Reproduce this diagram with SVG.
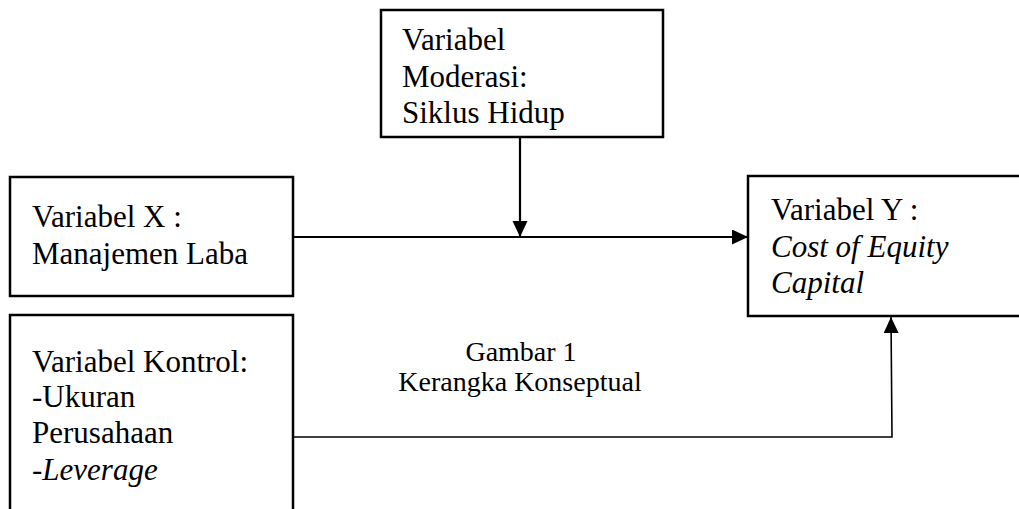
<svg xmlns="http://www.w3.org/2000/svg" width="1019" height="509" viewBox="0 0 1019 509">
  <defs>
    <marker id="arrow" markerUnits="userSpaceOnUse" markerWidth="17" markerHeight="16" refX="16" refY="7.5" orient="auto">
      <path d="M0,0 L16,7.5 L0,15 Z" fill="#000"/>
    </marker>
  </defs>
  <style>
    .box { fill: #fff; stroke: #000; stroke-width: 2.5; }
    .t { font-family: "Liberation Serif", "Times New Roman", serif; font-size: 31px; fill: #000; }
    .i { font-style: italic; }
    .cap { font-family: "Liberation Serif", "Times New Roman", serif; font-size: 28px; fill: #000; text-anchor: middle; }
    .conn { fill: none; stroke: #000; stroke-width: 2.2; }
    .conn2 { fill: none; stroke: #000; stroke-width: 1.6; }
  </style>
  <rect width="1019" height="509" fill="#fff"/>

  <g id="moderasi">
    <rect class="box" x="381" y="10" width="282" height="127"/>
    <text class="t" x="402" y="50">Variabel</text>
    <text class="t" x="402" y="87">Moderasi:</text>
    <text class="t" x="402" y="123">Siklus Hidup</text>
  </g>

  <g id="variabel-x">
    <rect class="box" x="10" y="177" width="283" height="119"/>
    <text class="t" x="32" y="227">Variabel X :</text>
    <text class="t" x="32" y="264">Manajemen Laba</text>
  </g>

  <g id="variabel-kontrol">
    <rect class="box" x="10" y="315" width="283" height="220"/>
    <text class="t" x="32" y="372">Variabel Kontrol:</text>
    <text class="t" x="32" y="407">-Ukuran</text>
    <text class="t" x="32" y="443">Perusahaan</text>
    <text class="t" x="32" y="480">-<tspan class="i">Leverage</tspan></text>
  </g>

  <g id="variabel-y">
    <rect class="box" x="748" y="176" width="290" height="140"/>
    <text class="t" x="771" y="220">Variabel Y :</text>
    <text class="t i" x="771" y="257">Cost of Equity</text>
    <text class="t i" x="771" y="293">Capital</text>
  </g>

  <g id="caption">
    <text class="cap" x="521" y="361">Gambar 1</text>
    <text class="cap" x="520" y="391">Kerangka Konseptual</text>
  </g>

  <g id="connectors">
    <line class="conn" x1="293" y1="237" x2="748" y2="237" marker-end="url(#arrow)"/>
    <line class="conn" x1="520" y1="137" x2="520" y2="237" marker-end="url(#arrow)"/>
    <polyline class="conn2" points="293,437 892,437 891,317" marker-end="url(#arrow)"/>
  </g>
</svg>
